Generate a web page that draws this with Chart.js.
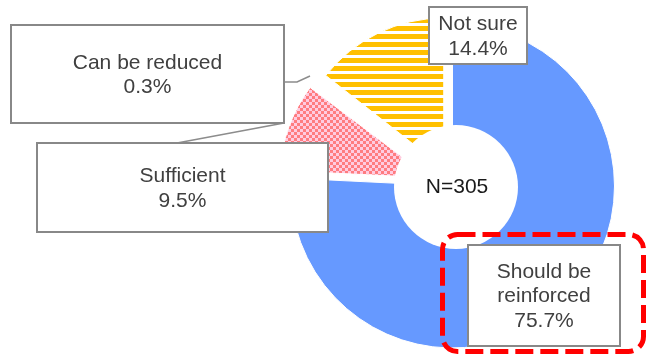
<!DOCTYPE html>
<html>
<head>
<meta charset="utf-8">
<script src="https://cdn.jsdelivr.net/npm/chart.js@4.4.1/dist/chart.umd.min.js"></script>
<style>
  body { margin: 0; background: #fff; }
  #wrap { width: 648px; height: 356px; }
</style>
</head>
<body>
<div id="wrap"><canvas id="opinionChart" width="648" height="356"></canvas></div>
<script>
const categories = ['Should be reinforced', 'Sufficient', 'Can be reduced', 'Not sure'];
const shares = [75.7, 9.5, 0.3, 14.4];
const sampleLabel = 'N=305';

// how far each slice is pulled out (px) and the radius of pulled-out slices
const explode = [0, 24, 20, 20];
const explodedRadius = 150;

// label boxes, placed by hand like in the original sheet
const boxes = [
  { x: 468, y: 245, w: 152, h: 101 },
  { x: 37, y: 143, w: 291, h: 89 },
  { x: 11, y: 25, w: 273, h: 98 },
  { x: 429, y: 7, w: 98, h: 57 }
];
const leaders = [
  [[177, 143], [284, 123]],
  [[284, 82], [297, 82], [310, 76]]
];

function checkerPattern() {
  const c = document.createElement('canvas');
  c.width = 6; c.height = 6;
  const g = c.getContext('2d');
  g.fillStyle = '#FFCCE0';
  g.fillRect(0, 0, 6, 6);
  g.fillStyle = '#FF7C80';
  g.fillRect(0, 0, 3, 3);
  g.fillRect(3, 3, 3, 3);
  return g.createPattern(c, 'repeat');
}

function stripePattern() {
  const c = document.createElement('canvas');
  c.width = 8; c.height = 8;
  const g = c.getContext('2d');
  g.fillStyle = '#FFFFFF';
  g.fillRect(0, 0, 8, 8);
  g.fillStyle = '#FFC000';
  g.fillRect(0, 2, 8, 5);
  return g.createPattern(c, 'repeat');
}

function wrapText(ctx, text, maxWidth) {
  const words = text.split(' ');
  const lines = [];
  let line = '';
  words.forEach(w => {
    const test = line ? line + ' ' + w : w;
    if (line && ctx.measureText(test).width > maxWidth) {
      lines.push(line);
      line = w;
    } else {
      line = test;
    }
  });
  lines.push(line);
  return lines;
}

const explodePlugin = {
  id: 'explode',
  afterDatasetsUpdate(chart) {
    const meta = chart.getDatasetMeta(0);
    meta.data.forEach((arc, i) => {
      if (!explode[i]) return;
      const mid = (arc.startAngle + arc.endAngle) / 2;
      arc.x += Math.cos(mid) * explode[i];
      arc.y += Math.sin(mid) * explode[i];
      arc.outerRadius = explodedRadius;
    });
  }
};

const annotatePlugin = {
  id: 'annotate',
  afterDraw(chart) {
    const ctx = chart.ctx;
    ctx.save();

    // centre hole with sample size
    ctx.beginPath();
    ctx.arc(456, 187, 62, 0, Math.PI * 2);
    ctx.fillStyle = '#FFFFFF';
    ctx.fill();
    ctx.font = '21px "Liberation Sans", Arial, sans-serif';
    ctx.fillStyle = '#1A1A1A';
    ctx.textAlign = 'center';
    ctx.textBaseline = 'middle';
    ctx.fillText(sampleLabel, 457, 187);

    // leader lines
    ctx.strokeStyle = '#8C8C8C';
    ctx.lineWidth = 1.5;
    leaders.forEach(pts => {
      ctx.beginPath();
      pts.forEach((p, k) => k ? ctx.lineTo(p[0], p[1]) : ctx.moveTo(p[0], p[1]));
      ctx.stroke();
    });

    // label boxes
    categories.forEach((name, i) => {
      const b = boxes[i];
      ctx.fillStyle = '#FFFFFF';
      ctx.fillRect(b.x, b.y, b.w, b.h);
      ctx.strokeStyle = '#888888';
      ctx.lineWidth = 2;
      ctx.strokeRect(b.x, b.y, b.w, b.h);
      const lines = wrapText(ctx, name, b.w - 16);
      lines.push(shares[i].toFixed(1) + '%');
      const lh = 24.5;
      const top = b.y + b.h / 2 + 1 - (lines.length - 1) * lh / 2;
      ctx.fillStyle = '#404040';
      lines.forEach((t, k) => ctx.fillText(t, b.x + b.w / 2, top + k * lh));
    });

    // red dashed highlight
    ctx.strokeStyle = '#FF0000';
    ctx.lineWidth = 5;
    ctx.setLineDash([18, 7]);
    ctx.beginPath();
    ctx.roundRect(442.5, 234.5, 201, 117, 15);
    ctx.stroke();
    ctx.restore();
  }
};

const ctx = document.getElementById('opinionChart').getContext('2d');

new Chart(ctx, {
  type: 'pie',
  data: {
    labels: categories,
    datasets: [{
      data: shares,
      backgroundColor: ['#6699FF', checkerPattern(), '#FFFFFF', stripePattern()],
      borderColor: '#FFFFFF',
      borderWidth: 1,
      radius: 162,
      clip: false
    }]
  },
  options: {
    responsive: false,
    animation: false,
    devicePixelRatio: 1,
    events: [],
    layout: { padding: { left: 300, right: 43, top: 20, bottom: 4 } },
    plugins: {
      legend: { display: false },
      tooltip: { enabled: false }
    }
  },
  plugins: [explodePlugin, annotatePlugin]
});
</script>
</body>
</html>
